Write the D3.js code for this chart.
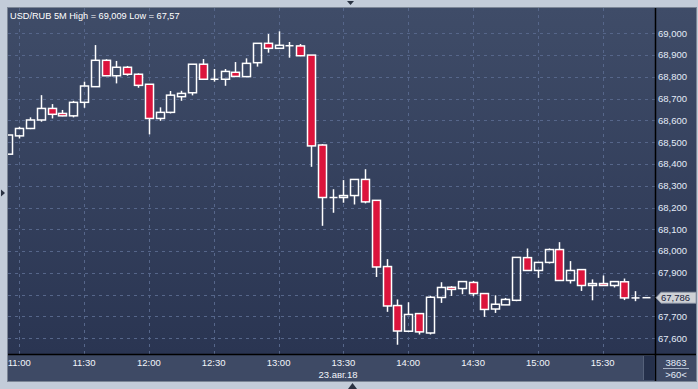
<!DOCTYPE html>
<html><head><meta charset="utf-8">
<script src="https://cdn.jsdelivr.net/npm/d3@7"></script>
<style>
html,body{margin:0;padding:0;background:#c3ccd9;}
svg{display:block;font-family:"Liberation Sans",Arial,sans-serif;}
</style></head>
<body>
<svg id="c" width="698" height="389"></svg>
<script>
// ---- data ----
const times = ["10:55","11:00","11:05","11:10","11:15","11:20","11:25","11:30","11:35","11:40",
"11:45","11:50","11:55","12:00","12:05","12:10","12:15","12:20","12:25","12:30",
"12:35","12:40","12:45","12:50","12:55","13:00","13:05","13:10","13:15","13:20",
"13:25","13:30","13:35","13:40","13:45","13:50","13:55","14:00","14:05","14:10",
"14:15","14:20","14:25","14:30","14:35","14:40","14:45","14:50","14:55","15:00",
"15:05","15:10","15:15","15:20","15:25","15:30","15:35","15:40","15:45","15:50"];
const open  = [68.445,68.529,68.563,68.602,68.655,68.632,68.621,68.683,68.755,68.876,
68.805,68.844,68.812,68.766,68.609,68.637,68.709,68.727,68.858,68.789,
68.789,68.821,68.801,68.865,68.954,68.931,68.943,68.942,68.900,68.487,
68.246,68.246,68.255,68.329,68.233,67.929,67.750,67.632,67.713,67.624,
67.787,67.834,67.828,67.856,67.805,67.734,67.753,67.774,67.970,67.911,
67.948,68.007,67.865,67.915,67.842,67.851,67.842,67.859,67.785,67.786];
const high  = [68.533,68.571,68.614,68.716,68.675,68.648,68.690,68.778,68.946,68.881,
68.873,68.850,68.816,68.766,68.660,68.735,68.736,68.858,68.882,68.836,
68.836,68.868,68.885,68.954,68.997,69.009,68.960,68.951,68.900,68.491,
68.284,68.326,68.329,68.376,68.233,67.963,67.778,67.765,67.713,67.794,
67.857,67.839,67.860,67.863,67.805,67.797,67.785,67.971,68.012,67.948,
68.012,68.041,67.954,67.915,67.870,67.888,67.860,67.874,67.816,67.786];
const low   = [68.445,68.517,68.560,68.594,68.609,68.619,68.614,68.658,68.755,68.805,
68.770,68.805,68.750,68.536,68.598,68.632,68.690,68.715,68.789,68.778,
68.759,68.802,68.801,68.847,68.911,68.931,68.888,68.895,68.387,68.116,
68.176,68.222,68.214,68.219,67.881,67.721,67.570,67.629,67.617,67.617,
67.762,67.794,67.802,67.793,67.698,67.716,67.753,67.770,67.911,67.877,
67.943,67.865,67.851,67.817,67.774,67.842,67.833,67.775,67.770,67.786];
const close = [68.533,68.563,68.602,68.655,68.628,68.621,68.683,68.758,68.876,68.805,
68.844,68.812,68.761,68.609,68.637,68.716,68.724,68.858,68.789,68.789,
68.825,68.802,68.862,68.954,68.931,68.945,68.943,68.897,68.483,68.246,
68.246,68.255,68.329,68.226,67.927,67.748,67.633,67.709,67.629,67.788,
67.833,67.824,67.860,67.805,67.732,67.756,67.778,67.971,67.911,67.948,
68.007,67.865,67.911,67.842,67.851,67.842,67.860,67.785,67.785,67.786];
const yTicks = [67.6,67.7,67.8,67.9,68.0,68.1,68.2,68.3,68.4,68.5,68.6,68.7,68.8,68.9,69.0];
const xTickLabels = ["11:00","11:30","12:00","12:30","13:00","13:30","14:00","14:30","15:00","15:30"];
const title = "USD/RUB 5M High = 69,009 Low = 67,57";
const dateLabel = "23.авг.18";
const lastPrice = 67.786;
const barsInfo = ["3863", ">60<"];

// ---- layout ----
const svg = d3.select("#c");
const L = 8, T = 8, R = 655, B = 354, PR = 696, PB = 381;
const parse = s => { const [h,m] = s.split(":").map(Number); return new Date(2018,7,23,h,m); };
const x = d3.scaleTime().domain([parse("11:00"), parse("15:30")]).range([19.2, 602.7]);
const y = d3.scaleLinear().domain([67.6, 69.0]).range([338.2, 33.3]);
const fmt = v => d3.format(".3f")(v).replace(".", ",");

const defs = svg.append("defs");
const g1 = defs.append("linearGradient").attr("id","bg").attr("x1",0).attr("y1",0).attr("x2",0).attr("y2",1);
g1.append("stop").attr("offset","0%").attr("stop-color","#3f4c68");
g1.append("stop").attr("offset","100%").attr("stop-color","#2a3552");
defs.append("clipPath").attr("id","clip").append("rect").attr("x",L).attr("y",T).attr("width",R-L).attr("height",B-T);

// panel backgrounds
svg.append("rect").attr("x",L-1).attr("y",T-1).attr("width",PR-L+2).attr("height",PB-T+2).attr("fill","#7c8696");
svg.append("rect").attr("x",L).attr("y",T).attr("width",PR-L).attr("height",B-T).attr("fill","url(#bg)");
svg.append("rect").attr("x",L).attr("y",B).attr("width",PR-L).attr("height",PB-B).attr("fill","#3e4a65");

// grid
const grid = svg.append("g").attr("stroke","#56668a").attr("stroke-width",1).attr("stroke-dasharray","3,4");
grid.selectAll("line.h").data(yTicks).join("line")
  .attr("x1",L).attr("x2",R).attr("y1",d=>Math.round(y(d))+0.5).attr("y2",d=>Math.round(y(d))+0.5);
grid.selectAll("line.v").data(xTickLabels).join("line")
  .attr("y1",T).attr("y2",B).attr("x1",d=>Math.round(x(parse(d)))+0.5).attr("x2",d=>Math.round(x(parse(d)))+0.5);

// candles
const data = times.map((t,i)=>({t:parse(t),o:open[i],h:high[i],l:low[i],c:close[i]}));
const cg = svg.append("g").attr("clip-path","url(#clip)");
const hw = 4;
data.forEach(d=>{
  const cx = Math.round(x(d.t)) + 0.5;
  const top = y(Math.max(d.o,d.c)), bot = y(Math.min(d.o,d.c));
  const doji = Math.abs(d.o-d.c) < 0.002;
  const col = "#ffffff";
  if (doji) {
    cg.append("line").attr("x1",cx).attr("x2",cx).attr("y1",y(d.h)).attr("y2",y(d.l)).attr("stroke",col).attr("stroke-width",1.5);
    cg.append("line").attr("x1",cx-hw).attr("x2",cx+hw).attr("y1",y(d.o)).attr("y2",y(d.o)).attr("stroke",col).attr("stroke-width",1.5);
    return;
  }
  if (d.h > Math.max(d.o,d.c)) cg.append("line").attr("x1",cx).attr("x2",cx).attr("y1",y(d.h)).attr("y2",top).attr("stroke",col).attr("stroke-width",1.5);
  if (d.l < Math.min(d.o,d.c)) cg.append("line").attr("x1",cx).attr("x2",cx).attr("y1",bot).attr("y2",y(d.l)).attr("stroke",col).attr("stroke-width",1.5);
  cg.append("rect").attr("x",cx-hw).attr("y",top).attr("width",hw*2).attr("height",Math.max(1,bot-top))
    .attr("fill", d.c < d.o ? "#dc143c" : "none").attr("stroke",col).attr("stroke-width",1.5);
});

// separators
svg.append("line").attr("x1",R+0.5).attr("x2",R+0.5).attr("y1",T).attr("y2",PB).attr("stroke","#000").attr("stroke-width",1.5);
svg.append("line").attr("x1",L).attr("x2",PR).attr("y1",B+0.5).attr("y2",B+0.5).attr("stroke","#000").attr("stroke-width",1.5);

// y labels (the one hidden under the last-price marker is skipped)
const yp = y(lastPrice);
svg.append("g").selectAll("text").data(yTicks.filter(d => Math.abs(y(d) - yp) > 10)).join("text")
  .attr("x",658).attr("y",d=>y(d)).attr("dy","0.35em")
  .attr("fill","#e4ecf8").attr("font-size","9.5px").text(d=>fmt(d));

// last price label
svg.append("path").attr("d",`M656,${yp} L661,${yp-5.5} L696,${yp-5.5} L696,${yp+5.5} L661,${yp+5.5} Z`)
  .attr("fill","#cdd0d5").attr("stroke","#8e98a8").attr("stroke-width",0.8);
svg.append("text").attr("x",661).attr("y",yp).attr("dy","0.35em").attr("fill","#18203a").attr("font-size","9.5px").text(fmt(lastPrice));

// x labels
svg.append("g").selectAll("text").data(xTickLabels).join("text")
  .attr("x",d=>x(parse(d))).attr("y",366).attr("text-anchor","middle")
  .attr("fill","#f2f5fa").attr("font-size","9.5px").text(d=>d);
svg.append("text").attr("x",338).attr("y",377.5).attr("text-anchor","middle").attr("fill","#f2f5fa").attr("font-size","9.5px").text(dateLabel);

// scroller stub
svg.append("rect").attr("x",643).attr("y",356).attr("width",12).attr("height",24).attr("fill","#25304b");
svg.append("line").attr("x1",643.5).attr("x2",643.5).attr("y1",356).attr("y2",380).attr("stroke","#55617a");

// bars info
svg.append("text").attr("x",676).attr("y",366).attr("text-anchor","middle").attr("fill","#e4ecf8").attr("font-size","9.5px").text(barsInfo[0]);
svg.append("line").attr("x1",663).attr("x2",689).attr("y1",368.5).attr("y2",368.5).attr("stroke","#a7b2c4");
svg.append("text").attr("x",676).attr("y",378).attr("text-anchor","middle").attr("fill","#e4ecf8").attr("font-size","9.5px").text(barsInfo[1]);

// title
svg.append("text").attr("x",10).attr("y",18.5).attr("fill","#ffffff").attr("font-size","9.2px").text(title);

// frame arrows
svg.append("path").attr("d","M347,1 L354,1 L350.5,5 Z").attr("fill","#2a3242");
svg.append("path").attr("d","M1,189.5 L5,193 L1,196.5 Z").attr("fill","#2a3242");
svg.append("path").attr("d","M348,389 L357,389 L352.5,383 Z").attr("fill","#2a3242");
</script>
</body></html>
